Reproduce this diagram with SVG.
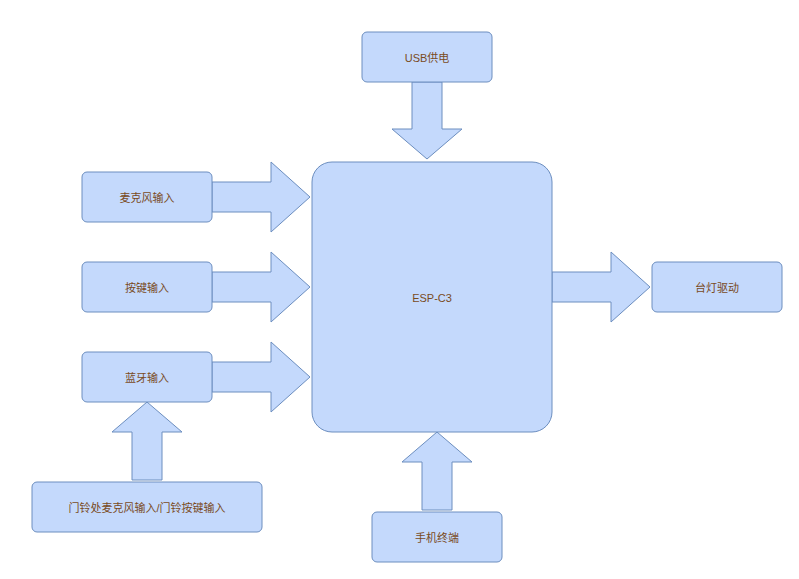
<svg xmlns="http://www.w3.org/2000/svg" width="799" height="579" viewBox="0 0 799 579">
<style>
.n{fill:#c4d9fc;stroke:#6c8ebf;stroke-width:1}
.a{fill:#c4d9fc;stroke:#6c8ebf;stroke-width:1;stroke-linejoin:miter}
.t{font-family:"Liberation Sans","Noto Sans CJK SC",sans-serif;font-size:11px;fill:#7a4b1c;text-anchor:middle;dominant-baseline:central}
</style>
<rect width="799" height="579" fill="#ffffff"/>
<g id="connectors">
<path class="a" d="M412,82 L442,82 L442,129 L462,129 L427,159 L392,129 L412,129 Z"/>
<path class="a" d="M212,182 L271,182 L271,162 L310,197 L271,232 L271,212 L212,212 Z"/>
<path class="a" d="M212,272 L271,272 L271,252 L310,287 L271,322 L271,302 L212,302 Z"/>
<path class="a" d="M212,362 L271,362 L271,342 L310,377 L271,412 L271,392 L212,392 Z"/>
<path class="a" d="M132,480 L132,432 L112,432 L147,402 L182,432 L162,432 L162,480 Z"/>
<path class="a" d="M552,272 L611,272 L611,252 L650,287 L611,322 L611,302 L552,302 Z"/>
<path class="a" d="M422,510 L422,462 L402,462 L437,432 L472,462 L452,462 L452,510 Z"/>
</g>
<g id="usb"><rect class="n" x="362" y="32" width="130" height="50" rx="5"/><text class="t" x="427" y="58">USB供电</text></g>
<g id="esp"><rect class="n" x="312" y="162" width="240" height="270" rx="20"/><text class="t" x="432" y="298">ESP-C3</text></g>
<g id="mic"><rect class="n" x="82" y="172" width="130" height="50" rx="5"/><text class="t" x="147" y="198">麦克风输入</text></g>
<g id="key"><rect class="n" x="82" y="262" width="130" height="50" rx="5"/><text class="t" x="147" y="288">按键输入</text></g>
<g id="bt"><rect class="n" x="82" y="352" width="130" height="50" rx="5"/><text class="t" x="147" y="378">蓝牙输入</text></g>
<g id="door"><rect class="n" x="32" y="482" width="230" height="50" rx="5"/><text class="t" x="147" y="508">门铃处麦克风输入/门铃按键输入</text></g>
<g id="lamp"><rect class="n" x="652" y="262" width="130" height="50" rx="5"/><text class="t" x="717" y="288">台灯驱动</text></g>
<g id="phone"><rect class="n" x="372" y="512" width="130" height="50" rx="5"/><text class="t" x="437" y="538">手机终端</text></g>
</svg>
